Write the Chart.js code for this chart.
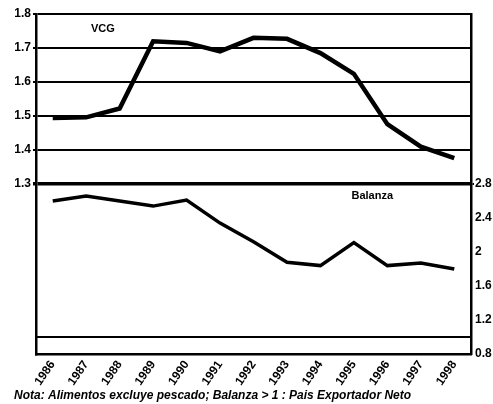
<!DOCTYPE html>
<html>
<head>
<meta charset="utf-8">
<script src="https://cdn.jsdelivr.net/npm/chart.js@4"></script>
<style>
  html, body { margin: 0; padding: 0; background: #fff; }
  #wrap { width: 493px; height: 404px; }
</style>
</head>
<body>
<div id="wrap"><canvas id="chart" width="493" height="404"></canvas></div>
<script>
// years on the x axis
const years = ['1986', '1987', '1988', '1989', '1990', '1991', '1992', '1993', '1994', '1995', '1996', '1997', '1998'];

// top panel: VCG (left axis)
const vcg = [1.494, 1.496, 1.522, 1.72, 1.715, 1.69, 1.73, 1.727, 1.685, 1.624, 1.476, 1.41, 1.376];

// bottom panel: Balanza (right axis)
const balanza = [2.6, 2.66, 2.6, 2.54, 2.61, 2.34, 2.12, 1.88, 1.84, 2.11, 1.84, 1.87, 1.80];

// tick labels
const leftTicks = [1.3, 1.4, 1.5, 1.6, 1.7, 1.8];
const rightTicks = [0.8, 1.0, 1.2, 1.6, 2.0, 2.4, 2.8];

const note = 'Nota: Alimentos excluye pescado; Balanza > 1 : Pais Exportador Neto';

const FONT = 'Liberation Sans, Arial, sans-serif';

// panel titles and the footnote
const labelsPlugin = {
  id: 'panelLabels',
  afterDraw(chart) {
    const { ctx, scales, chartArea } = chart;
    ctx.save();
    ctx.fillStyle = '#000';
    ctx.font = 'bold 11px ' + FONT;
    ctx.textAlign = 'center';
    ctx.textBaseline = 'middle';
    ctx.fillText('VCG', scales.x.getPixelForValue(1.5), scales.y.getPixelForValue(1.755));
    ctx.fillText('Balanza', scales.x.getPixelForValue(9.55), scales.y2.getPixelForValue(2.66));
    ctx.font = 'italic bold 12px ' + FONT;
    ctx.textAlign = 'left';
    ctx.fillText(note, chartArea.left - 22, 396);
    ctx.restore();
  }
};

const ctx = document.getElementById('chart').getContext('2d');

new Chart(ctx, {
  type: 'line',
  data: {
    labels: years,
    datasets: [
      {
        label: 'VCG',
        data: vcg,
        yAxisID: 'y',
        borderColor: '#000',
        borderWidth: 4.5,
        pointRadius: 0,
        tension: 0
      },
      {
        label: 'Balanza',
        data: balanza,
        yAxisID: 'y2',
        borderColor: '#000',
        borderWidth: 3.5,
        pointRadius: 0,
        tension: 0
      }
    ]
  },
  options: {
    responsive: false,
    animation: false,
    layout: { padding: { top: 14, left: 0, right: 0, bottom: 0 } },
    plugins: {
      legend: { display: false },
      tooltip: { enabled: false }
    },
    scales: {
      x: {
        offset: true,
        grid: { display: false, drawTicks: false },
        border: { display: true, color: '#000', width: 2.5 },
        ticks: {
          color: '#000',
          font: { family: FONT, size: 12, weight: 'bold' },
          minRotation: 55,
          maxRotation: 55,
          autoSkip: false,
          padding: 4
        },
        afterFit: (scale) => { scale.height = 50; }
      },
      y: {
        position: 'left',
        min: 0.8,
        max: 1.8,
        afterBuildTicks: (scale) => { scale.ticks = leftTicks.map(v => ({ value: v })); },
        afterFit: (scale) => { scale.width = 36; },
        border: { display: true, color: '#000', width: 2.5 },
        grid: {
          color: '#000',
          lineWidth: (c) => (c.tick && c.tick.value === 1.3 ? 3.5 : 2),
          tickLength: 3
        },
        ticks: {
          color: '#000',
          padding: 2,
          font: { family: FONT, size: 12, weight: 'bold' },
          callback: (v) => Number(v).toFixed(1)
        }
      },
      y2: {
        position: 'right',
        min: 0.8,
        max: 4.8,
        afterBuildTicks: (scale) => { scale.ticks = rightTicks.map(v => ({ value: v })); },
        afterFit: (scale) => { scale.width = 22; },
        border: { display: true, color: '#000', width: 2.5 },
        grid: {
          color: (c) => (c.tick && c.tick.value === 1.0 ? '#000' : 'rgba(0,0,0,0)'),
          tickColor: (c) => (c.tick && c.tick.value === 2.8 ? '#000' : 'rgba(0,0,0,0)'),
          lineWidth: 2,
          tickLength: 3
        },
        ticks: {
          color: '#000',
          padding: 1,
          font: { family: FONT, size: 12, weight: 'bold' },
          callback: (v) => {
            const n = Number(v);
            if (n === 1.0) return '';
            if (n === 2.0) return '2';
            return n.toFixed(1);
          }
        }
      }
    }
  },
  plugins: [labelsPlugin]
});
</script>
</body>
</html>
